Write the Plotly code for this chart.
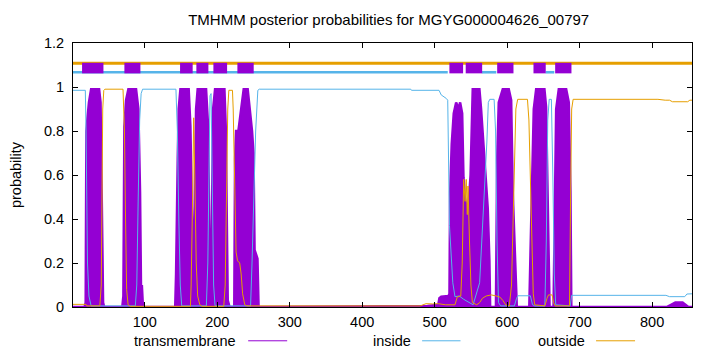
import plotly.graph_objects as go

# ---------------- data ----------------
title_text = "TMHMM posterior probabilities for MGYG000004626_00797"
seq_len = 855

# transmembrane posterior (visual envelope vertices)
tm_x = [1, 17, 18.5, 19, 19.5, 21, 23, 26, 37, 39, 40.5, 41.5, 42.5, 44,
        69, 70.5, 71.9, 74.2, 77.4, 88, 91.2, 93.5, 94.9, 96, 97.5,
        142, 143.2, 145.5, 146.8, 149.2, 160.6, 163, 165.3, 167.5,
        168.9, 170.8, 173, 184.6, 187.4, 189.2, 190.1, 191.5,
        192.9, 194.3, 197, 209.9, 211.7, 213.1, 214.5, 217,
        223.5, 224.6, 226, 229.2, 232.9, 235.2, 236.5, 242, 245.3, 248, 250, 251.5, 255.5, 257,
        490, 505, 506.5, 509, 519, 520.4, 521.3, 523.5, 526.3, 529.6, 532.8, 535.1, 537.9, 539.7,
        541.5, 544, 547, 549.5, 552.5, 561.7, 564, 568.6, 573.2, 575.5, 576.5,
        584.5, 586.2, 588.4, 593.9, 602.2, 605.5, 607.7, 611.4, 613.3,
        630.5, 633.1, 636.7, 640, 651.4, 653.7, 656, 657.4, 658.5,
        664, 665.3, 667.6, 671.2, 681.4, 685, 687.3, 688.5,
        820, 826, 832, 842, 847, 850, 855]
tm_y = [0, 0, 0.02, 0.25, 0.8, 0.86, 0.93, 0.99, 0.99, 0.93, 0.6, 0.2, 0.02, 0,
        0, 0.05, 0.82, 0.94, 0.99, 0.99, 0.9, 0.52, 0.06, 0.1, 0,
        0, 0.15, 0.67, 0.9, 0.99, 0.99, 0.82, 0.37, 0.15,
        0.52, 0.9, 0.99, 0.99, 0.82, 0.37, 0.06, 0.05,
        0.37, 0.9, 0.99, 0.99, 0.82, 0.21, 0.03, 0,
        0, 0.67, 0.8, 0.8, 0.9, 0.98, 0.99, 0.99, 0.9, 0.8, 0.7, 0.26, 0.22, 0,
        0.005, 0.01, 0.04, 0.047, 0.05, 0.06, 0.52, 0.74, 0.88, 0.93, 0.9, 0.93, 0.88, 0.59,
        0.5, 0.45, 0.47, 0.6, 0.99, 0.99, 0.9, 0.67, 0.45, 0.21, 0,
        0, 0.67, 0.93, 0.99, 0.99, 0.94, 0.52, 0.15, 0,
        0, 0.37, 0.9, 0.99, 0.99, 0.91, 0.37, 0.06, 0,
        0, 0.37, 0.9, 0.99, 0.99, 0.93, 0.52, 0,
        0, 0.01, 0.02, 0.02, 0.01, 0, 0]

# inside posterior
inside_x = [1, 18, 19, 20, 21, 23, 26, 87, 89, 91, 93, 95, 97, 143, 145, 147, 149, 151,
            185, 187, 189, 190, 191.5, 193, 195, 197, 246, 248, 251, 253, 256, 258,
            467, 468, 506, 509, 516, 518, 520.4, 522.5, 525, 528, 531, 534, 540, 545, 550, 553,
            562, 568.6, 572, 574, 576, 582, 584, 586, 588, 591, 610, 613, 615, 632, 635, 638,
            652, 654, 656, 658, 661, 663, 665, 667, 687, 689, 819, 824, 845, 848, 855]
inside_y = [0.985, 0.985, 0.8, 0.5, 0.2, 0.05, 0.005, 0.005, 0.1, 0.5, 0.85, 0.97, 0.99, 0.99, 0.8, 0.4, 0.1, 0.005,
            0.005, 0.2, 0.7, 0.96, 0.97, 0.6, 0.1, 0.005, 0.005, 0.2, 0.5, 0.8, 0.985, 0.99,
            0.99, 0.985, 0.985, 0.964, 0.948, 0.94, 0.37, 0.27, 0.11, 0.047, 0.05, 0.05, 0.035, 0.025, 0.017, 0.01,
            0.11, 0.5, 0.75, 0.93, 0.944, 0.944, 0.8, 0.3, 0.02, 0.005, 0.005, 0.04, 0.051, 0.051, 0.01, 0.005,
            0.005, 0.3, 0.85, 0.944, 0.944, 0.6, 0.15, 0.01, 0.005, 0.053, 0.053, 0.047, 0.047, 0.059, 0.06]

# outside posterior
outside_x = [1, 19, 20, 38, 40, 41, 42, 43.5, 45, 70, 72, 73.5, 75, 77, 80,
             163, 164, 166, 167.5, 169, 171, 173, 176, 179,
             209, 211, 213, 214.5, 216, 221, 222, 224, 226, 228, 231, 233, 235, 238, 241,
             480, 488, 497, 505, 515, 528, 531, 536, 538, 540, 542, 543.5, 545, 546, 548, 550, 552, 558,
             562, 566, 571, 578, 585, 590, 594, 598, 603, 606, 609, 612, 614.5, 628, 630, 633, 636, 638,
             652, 655, 657, 662, 664, 666, 686, 687.5, 689, 691, 808, 818, 824, 828, 849, 852, 855]
outside_y = [0.012, 0.012, 0.005, 0.005, 0.1, 0.5, 0.9, 0.985, 0.99, 0.99, 0.8, 0.4, 0.08, 0.01, 0.003,
             0.003, 0.1, 0.5, 0.86, 0.6, 0.2, 0.05, 0.01, 0.003,
             0.003, 0.1, 0.5, 0.9, 0.985, 0.985, 0.9, 0.55, 0.25, 0.21, 0.2, 0.15, 0.06, 0.01, 0.005,
             0.005, 0.015, 0.014, 0.015, 0.01, 0.01, 0.045, 0.05, 0.2, 0.58, 0.48, 0.58, 0.42, 0.55, 0.3, 0.1, 0.02, 0.01,
             0.02, 0.04, 0.05, 0.055, 0.05, 0.045, 0.03, 0.01, 0.005, 0.1, 0.5, 0.9, 0.944, 0.944, 0.85, 0.4, 0.06, 0.01,
             0.005, 0.04, 0.055, 0.055, 0.02, 0.005, 0.005, 0.5, 0.9, 0.944, 0.944, 0.94, 0.94, 0.933, 0.933, 0.94, 0.94]

# predicted topology segments (top of the plot)
tm_seg_start = [13.5, 71.9, 148.7, 171.2, 194.7, 227.8, 520.3, 542.8, 586.2, 636.3, 666.2]
tm_seg_end = [43.0, 94.0, 166.1, 187.8, 213.6, 250.3, 539.2, 565.5, 608.7, 653.2, 688.7]
inside_seg_start = [1, 565, 653]
inside_seg_end = [518, 585, 665]
outside_seg_start = [1]
outside_seg_end = [855]

x_ticks = [100, 200, 300, 400, 500, 600, 700, 800]
y_ticks = [0, 0.2, 0.4, 0.6, 0.8, 1.0, 1.2]
y_tick_text = ["0", "0.2", "0.4", "0.6", "0.8", "1", "1.2"]

# ---------------- styling ----------------
PURPLE = "#9400d3"
BLUE = "#56b4e9"
ORANGE = "#e69f00"
FONT = "Liberation Sans, Arial, sans-serif"
FS = 14.5

fig = go.Figure()

fig.add_trace(go.Scatter(x=tm_x, y=tm_y, mode="lines", fill="tozeroy",
                         fillcolor=PURPLE, line=dict(color=PURPLE, width=2.5),
                         showlegend=False, hoverinfo="skip"))
fig.add_trace(go.Scatter(x=inside_x, y=inside_y, mode="lines",
                         line=dict(color=BLUE, width=1), showlegend=False))
fig.add_trace(go.Scatter(x=outside_x, y=outside_y, mode="lines",
                         line=dict(color=ORANGE, width=1), showlegend=False))


def seg_xy(starts, ends, level):
    xs, ys = [], []
    for s, e in zip(starts, ends):
        xs += [s, e, None]
        ys += [level, level, None]
    return xs, ys


ox, oy = seg_xy(outside_seg_start, outside_seg_end, 1.108)
fig.add_trace(go.Scatter(x=ox, y=oy, mode="lines", line=dict(color=ORANGE, width=3.2),
                         showlegend=False, hoverinfo="skip"))
ix, iy = seg_xy(inside_seg_start, inside_seg_end, 1.067)
fig.add_trace(go.Scatter(x=ix, y=iy, mode="lines", line=dict(color=BLUE, width=2.6),
                         showlegend=False, hoverinfo="skip"))

for s, e in zip(tm_seg_start, tm_seg_end):
    fig.add_shape(type="rect", xref="x", yref="y", x0=s, x1=e, y0=1.062, y1=1.110,
                  fillcolor=PURPLE, line=dict(width=0), layer="above")

# legend (gnuplot style: text then line sample), below the plot
legend_items = [("transmembrane", PURPLE, 0.267, 0.283, 0.346),
                ("inside", BLUE, 0.549, 0.564, 0.626),
                ("outside", ORANGE, 0.830, 0.845, 0.908)]
ly = -0.128
for name, col, tx, l0, l1 in legend_items:
    fig.add_annotation(x=tx, y=ly, xref="paper", yref="paper", text=name,
                       showarrow=False, xanchor="right", yanchor="middle",
                       font=dict(family=FONT, size=FS, color="black"))
    fig.add_shape(type="line", xref="paper", yref="paper", x0=l0, x1=l1, y0=ly, y1=ly,
                  line=dict(color=col, width=1))

fig.add_annotation(x=-0.092, y=0.5, xref="paper", yref="paper", text="probability",
                   textangle=-90, showarrow=False, xanchor="center", yanchor="middle",
                   font=dict(family=FONT, size=FS, color="black"))

fig.update_layout(
    width=720, height=352,
    margin=dict(l=73, r=28, t=43, b=45),
    paper_bgcolor="white", plot_bgcolor="white",
    font=dict(family=FONT, size=FS, color="black"),
    title=dict(text=title_text, x=0.51, xref="paper", xanchor="center",
               y=1 - 20 / 352, yanchor="middle", yref="container",
               font=dict(family=FONT, size=15, color="black")),
    showlegend=False,
)
fig.update_xaxes(range=[1, seq_len], tickvals=x_ticks, ticks="inside", ticklen=5,
                 tickcolor="black", showline=True, linecolor="black", linewidth=1,
                 mirror="ticks", showgrid=False, zeroline=False, ticklabelstandoff=2)
fig.update_yaxes(range=[0, 1.2], tickvals=y_ticks, ticktext=y_tick_text, ticks="inside",
                 ticklen=5, tickcolor="black", showline=True, linecolor="black", linewidth=1,
                 mirror="ticks", showgrid=False, zeroline=False, ticklabelstandoff=5)

fig.write_html("out.html")
